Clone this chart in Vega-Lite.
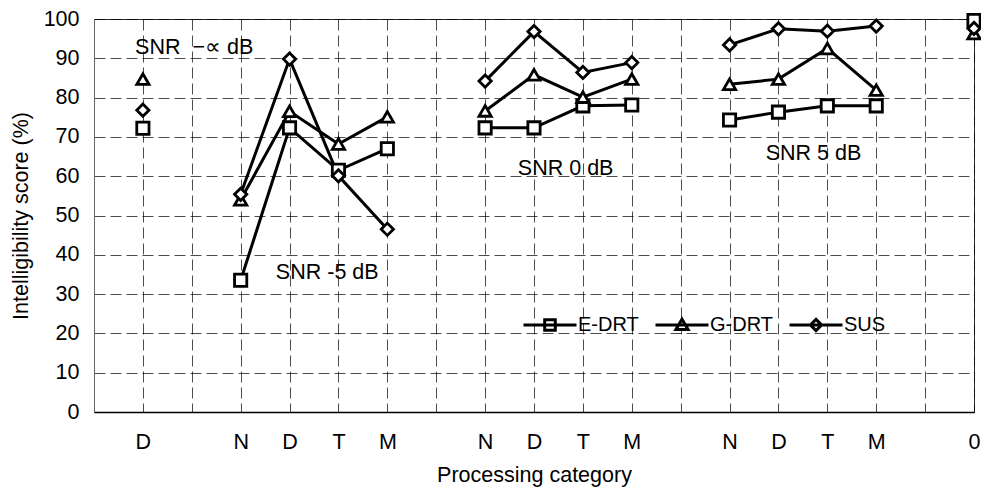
{
  "$schema": "https://vega.github.io/schema/vega-lite/v6.json",
  "width": 880,
  "height": 393,
  "autosize": "none",
  "padding": {"left": 94, "top": 19, "right": 7, "bottom": 77},
  "background": "white",
  "config": {
    "font": "Liberation Sans",
    "view": {"stroke": "#333333", "strokeWidth": 1},
    "axis": {
      "labelFontSize": 21.5,
      "titleFontSize": 21.5,
      "labelColor": "black",
      "titleColor": "black",
      "titleFontWeight": "normal",
      "ticks": false,
      "grid": true,
      "gridColor": "black",
      "gridDash": [11, 5],
      "gridWidth": 1,
      "gridOpacity": 0.7
    },
    "legend": {
      "labelFontSize": 20,
      "labelColor": "black",
      "labelFont": "Liberation Sans"
    }
  },
  "datasets": {
    "scores": [
      {"series": "E-DRT", "snr": "-inf", "slot": 1, "score": 72.2},
      {"series": "G-DRT", "snr": "-inf", "slot": 1, "score": 84.7},
      {"series": "SUS", "snr": "-inf", "slot": 1, "score": 76.8},

      {"series": "E-DRT", "snr": "-5", "slot": 3, "score": 33.5},
      {"series": "E-DRT", "snr": "-5", "slot": 4, "score": 72.3},
      {"series": "E-DRT", "snr": "-5", "slot": 5, "score": 61.5},
      {"series": "E-DRT", "snr": "-5", "slot": 6, "score": 67.0},
      {"series": "G-DRT", "snr": "-5", "slot": 3, "score": 54.0},
      {"series": "G-DRT", "snr": "-5", "slot": 4, "score": 76.5},
      {"series": "G-DRT", "snr": "-5", "slot": 5, "score": 68.2},
      {"series": "G-DRT", "snr": "-5", "slot": 6, "score": 75.1},
      {"series": "SUS", "snr": "-5", "slot": 3, "score": 55.4},
      {"series": "SUS", "snr": "-5", "slot": 4, "score": 89.8},
      {"series": "SUS", "snr": "-5", "slot": 5, "score": 60.1},
      {"series": "SUS", "snr": "-5", "slot": 6, "score": 46.5},

      {"series": "E-DRT", "snr": "0", "slot": 8, "score": 72.3},
      {"series": "E-DRT", "snr": "0", "slot": 9, "score": 72.3},
      {"series": "E-DRT", "snr": "0", "slot": 10, "score": 77.9},
      {"series": "E-DRT", "snr": "0", "slot": 11, "score": 78.1},
      {"series": "G-DRT", "snr": "0", "slot": 8, "score": 76.6},
      {"series": "G-DRT", "snr": "0", "slot": 9, "score": 85.8},
      {"series": "G-DRT", "snr": "0", "slot": 10, "score": 80.1},
      {"series": "G-DRT", "snr": "0", "slot": 11, "score": 84.7},
      {"series": "SUS", "snr": "0", "slot": 8, "score": 84.2},
      {"series": "SUS", "snr": "0", "slot": 9, "score": 96.8},
      {"series": "SUS", "snr": "0", "slot": 10, "score": 86.4},
      {"series": "SUS", "snr": "0", "slot": 11, "score": 88.9},

      {"series": "E-DRT", "snr": "5", "slot": 13, "score": 74.3},
      {"series": "E-DRT", "snr": "5", "slot": 14, "score": 76.3},
      {"series": "E-DRT", "snr": "5", "slot": 15, "score": 77.9},
      {"series": "E-DRT", "snr": "5", "slot": 16, "score": 77.9},
      {"series": "G-DRT", "snr": "5", "slot": 13, "score": 83.4},
      {"series": "G-DRT", "snr": "5", "slot": 14, "score": 84.7},
      {"series": "G-DRT", "snr": "5", "slot": 15, "score": 92.5},
      {"series": "G-DRT", "snr": "5", "slot": 16, "score": 81.9},
      {"series": "SUS", "snr": "5", "slot": 13, "score": 93.4},
      {"series": "SUS", "snr": "5", "slot": 14, "score": 97.5},
      {"series": "SUS", "snr": "5", "slot": 15, "score": 96.9},
      {"series": "SUS", "snr": "5", "slot": 16, "score": 98.2},

      {"series": "E-DRT", "snr": "clean", "slot": 18, "score": 99.6},
      {"series": "G-DRT", "snr": "clean", "slot": 18, "score": 96.3},
      {"series": "SUS", "snr": "clean", "slot": 18, "score": 97.6}
    ],
    "notes": [
      {"label": "SNR\u00a0\u00a0−∝ dB", "slot": 0.84, "score": 92.6},
      {"label": "SNR -5 dB", "slot": 3.72, "score": 35.4},
      {"label": "SNR 0 dB", "slot": 8.67, "score": 61.8},
      {"label": "SNR 5 dB", "slot": 13.74, "score": 65.6}
    ]
  },
  "encoding": {
    "x": {
      "field": "slot",
      "type": "quantitative",
      "scale": {"domain": [0, 18], "nice": false, "zero": false},
      "axis": {
        "title": "Processing category",
        "values": [1, 2, 3, 4, 5, 6, 7, 8, 9, 10, 11, 12, 13, 14, 15, 16, 17, 18],
        "labelExpr": "['', 'D', '', 'N', 'D', 'T', 'M', '', 'N', 'D', 'T', 'M', '', 'N', 'D', 'T', 'M', '', '0'][datum.value]",
        "labelPadding": 19,
        "labelFlush": false,
        "labelOverlap": false,
        "titlePadding": 12,
        "domainColor": "black",
        "domainWidth": 1.5
      }
    },
    "y": {
      "field": "score",
      "type": "quantitative",
      "scale": {"domain": [0, 100], "nice": false},
      "axis": {
        "title": "Intelligibility score (%)",
        "values": [0, 10, 20, 30, 40, 50, 60, 70, 80, 90, 100],
        "labelPadding": 15,
        "titlePadding": 11,
        "domainColor": "#666666",
        "domainWidth": 1
      }
    }
  },
  "layer": [
    {
      "data": {"name": "scores"},
      "mark": {"type": "line", "strokeWidth": 3},
      "encoding": {
        "stroke": {
          "field": "series",
          "type": "nominal",
          "scale": {"domain": ["E-DRT", "G-DRT", "SUS"], "range": ["black", "black", "black"]},
          "legend": {
            "title": null,
            "orient": "none",
            "direction": "horizontal",
            "gridAlign": "none",
            "legendX": 428,
            "legendY": 278,
            "padding": 0,
            "symbolSize": 2809,
            "symbolStrokeWidth": 3,
            "labelOffset": 0,
            "columnPadding": 10,
            "encoding": {
              "symbols": {
                "shape": {"value": {"expr": "datum.value === 'E-DRT' ? 'M-1,0H1M-0.2,-0.2H0.2V0.2H-0.2Z' : datum.value === 'G-DRT' ? 'M-1,0H1M0,-0.22L0.23,0.17H-0.23Z' : 'M-1,0H1M0,-0.21L0.21,0L0,0.21L-0.21,0Z'"}},
                "strokeWidth": {"value": 3},
                "fill": {"value": "white"},
                "opacity": {"value": 1}
              }
            }
          }
        },
        "detail": {"field": "snr"}
      }
    },
    {
      "data": {"name": "scores"},
      "mark": {"type": "point", "fill": "white", "strokeWidth": 2.8, "size": 150, "opacity": 1},
      "encoding": {
        "stroke": {"field": "series", "type": "nominal"},
        "shape": {
          "field": "series",
          "type": "nominal",
          "scale": {"domain": ["SUS", "G-DRT", "E-DRT"], "range": ["diamond", "triangle-up", "square"]},
          "legend": null
        }
      }
    },
    {
      "data": {"name": "notes"},
      "mark": {"type": "text", "align": "left", "baseline": "middle", "fontSize": 21.5, "color": "black"},
      "encoding": {
        "text": {"field": "label"}
      }
    }
  ]
}
